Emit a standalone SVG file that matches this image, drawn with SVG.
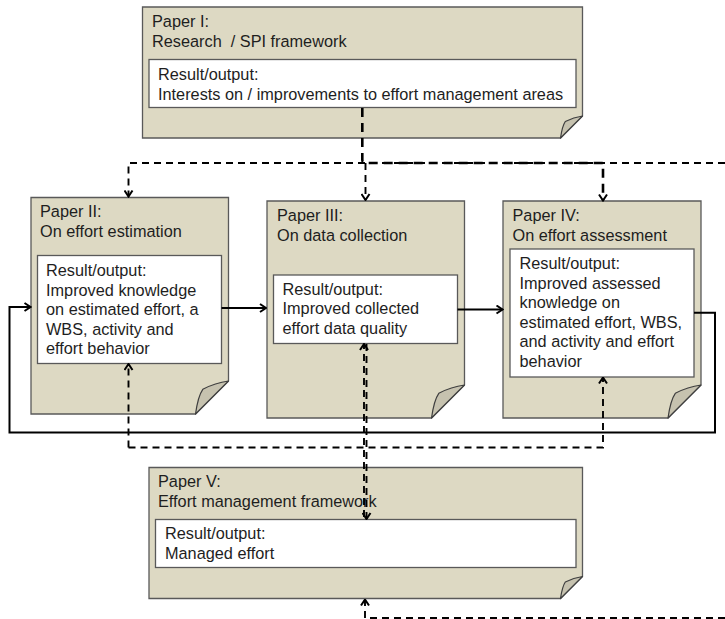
<svg xmlns="http://www.w3.org/2000/svg" width="725" height="619" viewBox="0 0 725 619">
  <style>
    .page { fill: #ddd9c3; stroke: #595959; stroke-width: 1.3; }
    .curl { fill: #c6c2af; stroke: #3f3f3f; stroke-width: 1.2; stroke-linejoin: round; }
    .inner { fill: #ffffff; stroke: #595959; stroke-width: 1.3; }
    text { font-family: "Liberation Sans", Arial, sans-serif; font-size: 16.3px; fill: #1e1e1e; white-space: pre; }
    .solid { fill: none; stroke: #000; stroke-width: 2; }
    .dash { fill: none; stroke: #000; stroke-width: 1.9; stroke-dasharray: 7 5; }
    .dash-bold { fill: none; stroke: #000; stroke-width: 2.6; stroke-dasharray: 9 6; }
  </style>
  <defs>
    <marker id="arrow" viewBox="0 0 10 10" refX="9" refY="5" markerWidth="10" markerHeight="10" orient="auto" markerUnits="userSpaceOnUse">
      <path d="M3 1 L9 5 L3 9" fill="none" stroke="#000" stroke-width="2" stroke-dasharray="none"/>
    </marker>
  </defs>

  <rect width="725" height="619" fill="#ffffff"/>

  <!-- Paper I -->
  <g id="paper1">
    <path class="page" d="M142.5 7 H582.5 V116 L560.5 138 H142.5 Z"/>
    <path class="curl" d="M582.5 116 L560.5 138 Q562.3 125.9 565.3 121.5 Q573.7 117.1 582.5 116 Z"/>
    <text x="152" y="26.7">Paper I:</text>
    <text x="152" y="46.7">Research  / SPI framework</text>
    <rect class="inner" x="149" y="59.5" width="427" height="48"/>
    <text x="158" y="80">Result/output:</text>
    <text x="158" y="99.5">Interests on / improvements to effort management areas</text>
  </g>

  <!-- Paper II -->
  <g id="paper2">
    <path class="page" d="M31 197.5 H228.5 V381 L195.5 414 H31 Z"/>
    <path class="curl" d="M228.5 381 L195.5 414 Q198.1 395.9 202.8 389.3 Q215.3 382.7 228.5 381 Z"/>
    <text x="40" y="217.3">Paper II:</text>
    <text x="40" y="237.3">On effort estimation</text>
    <rect class="inner" x="37.5" y="255.5" width="184" height="108"/>
    <text x="46" y="276">Result/output:</text>
    <text x="46" y="295.5">Improved knowledge</text>
    <text x="46" y="315">on estimated effort, a</text>
    <text x="46" y="334.5">WBS, activity and</text>
    <text x="46" y="354">effort behavior</text>
  </g>

  <!-- Paper III -->
  <g id="paper3">
    <path class="page" d="M267 201 H464.5 V385 L431.5 418 H267 Z"/>
    <path class="curl" d="M464.5 385 L431.5 418 Q434.1 399.9 438.8 393.3 Q451.3 386.7 464.5 385 Z"/>
    <text x="277" y="220.7">Paper III:</text>
    <text x="277" y="240.7">On data collection</text>
    <rect class="inner" x="273.5" y="275" width="184" height="68.5"/>
    <text x="282.5" y="294.5">Result/output:</text>
    <text x="282.5" y="314">Improved collected</text>
    <text x="282.5" y="333.5">effort data quality</text>
  </g>

  <!-- Paper IV -->
  <g id="paper4">
    <path class="page" d="M503 201 H701 V385 L668 418 H503 Z"/>
    <path class="curl" d="M701 385 L668 418 Q670.6 399.9 675.3 393.3 Q687.8 386.7 701 385 Z"/>
    <text x="512.5" y="220.7">Paper IV:</text>
    <text x="512.5" y="240.7">On effort assessment</text>
    <rect class="inner" x="510" y="249" width="184" height="128"/>
    <text x="519.5" y="269">Result/output:</text>
    <text x="519.5" y="288.5">Improved assessed</text>
    <text x="519.5" y="308">knowledge on</text>
    <text x="519.5" y="327.5">estimated effort, WBS,</text>
    <text x="519.5" y="347">and activity and effort</text>
    <text x="519.5" y="366.5">behavior</text>
  </g>

  <!-- Paper V -->
  <g id="paper5">
    <path class="page" d="M149 467.5 H582.5 V576.5 L560.5 598.5 H149 Z"/>
    <path class="curl" d="M582.5 576.5 L560.5 598.5 Q562.3 586.4 565.3 582 Q573.7 577.6 582.5 576.5 Z"/>
    <text x="158" y="486.7">Paper V:</text>
    <text x="158" y="506.7">Effort management framework</text>
    <rect class="inner" x="155.5" y="519.5" width="420.5" height="48"/>
    <text x="165" y="539.3">Result/output:</text>
    <text x="165" y="559.3">Managed effort</text>
  </g>

  <!-- Connectors -->
  <g id="connectors">
    <!-- solid flow between studies -->
    <path class="solid" d="M221.5 308 H266" marker-end="url(#arrow)"/>
    <path class="solid" d="M457.5 309.5 H502.5" marker-end="url(#arrow)"/>
    <path class="solid" d="M694 312.7 H715 V432.5 H9.5 V307 H30.5" marker-end="url(#arrow)"/>

    <!-- dashed distribution from Paper I -->
    <path class="dash" d="M725 163 H128.5 V196.5" marker-end="url(#arrow)"/>
    <path class="dash" d="M365.5 163 V200" marker-end="url(#arrow)"/>
    <path class="dash-bold" d="M362.3 108 V160 Q362.3 163 366 163 H603 V200.5" marker-end="url(#arrow)"/>

    <!-- dashed links towards Paper V -->
    <path class="dash" d="M128.5 447.5 V364" marker-end="url(#arrow)"/>
    <path class="dash" d="M128.5 447.5 H603 V377.5" marker-end="url(#arrow)"/>
    <path class="dash" d="M364 517 V344" marker-end="url(#arrow)"/>
    <path class="dash" d="M366.5 344 V519" marker-end="url(#arrow)"/>

    <!-- dashed return into Paper V from the right -->
    <path class="dash" d="M725 618 H365 V599.5" marker-end="url(#arrow)"/>
  </g>
</svg>
